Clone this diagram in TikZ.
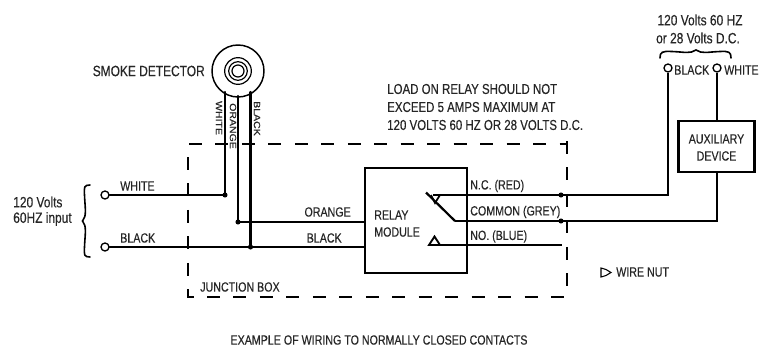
\documentclass[tikz,border=0pt]{standalone}
\usepackage{fontspec}
\setmainfont[FakeStretch=0.8,FakeBold=0.35]{Liberation Sans}
\tikzset{
 wire/.style={line width=1.65pt,line cap=round,line join=miter},
 boxed/.style={draw,line width=1.65pt,inner sep=0pt},
 term/.style={circle,draw,line width=1pt,fill=white,minimum size=6pt,inner sep=0pt},
 dotj/.style={circle,fill=black,minimum size=3.8pt,inner sep=0pt},
 lab/.style={font=\fontsize{10pt}{12.8pt}\selectfont,inner sep=0pt,text=black!85},
 labw/.style={lab,font=\fontsize{10.75pt}{13pt}\selectfont},
 labx/.style={lab,font=\fontsize{11.2pt}{13pt}\selectfont},
 vlab/.style={font=\fontsize{6.8pt}{8pt}\selectfont,inner sep=0pt,rotate=-90,text=black!85},
 dashline/.style={line width=1.65pt,dash pattern=on 9.75pt off 10.1pt},
 brc/.style={line width=1.2pt,line cap=round}
}
\begin{document}
\begin{tikzpicture}[x=0.75pt,y=-0.75pt]
\useasboundingbox (0,0) rectangle (770,350);
% junction box
\draw[dashline] (189,144) -- (567,144);
\draw[dashline] (188,157) -- (188,297.7);
\draw[dashline] (207,297) -- (567,297);
\draw[line width=1.65pt] (187.3,297) -- (194,297);
\draw[dashline] (567,141) -- (567,290);
% detector
\node[circle,draw,line width=1.1pt,minimum size=39pt,inner sep=0pt] (det) at (238,71) {};
\node[circle,draw,line width=.9pt,minimum size=20pt,inner sep=0pt] (r1) at (238,71) {};
\node[circle,draw,line width=.9pt,minimum size=14pt,inner sep=0pt] (r2) at (238,71) {};
\node[circle,draw,line width=.9pt,minimum size=9pt,inner sep=0pt] (r3) at (238,71) {};
% terminals, dots
\node[term] (tw) at (105,195) {};
\node[term] (tb) at (105,247) {};
\coordinate (dw) at (225,195);
\coordinate (do) at (238,222);
\coordinate (db) at (250.5,247);
\node[dotj] at (dw) {};
\node[dotj] at (do) {};
\node[dotj] at (db) {};
% relay box
\node[boxed,minimum width=76.5pt,minimum height=78.75pt] (relay) at (416,220.5) {};
\node[boxed,minimum width=57pt,minimum height=38.25pt] (aux) at (716.5,146.5) {};
\node[term] (tbk) at (668,68) {};
\node[term] (twh) at (717,68) {};
% wires
\draw[wire] (tw) -- (dw);
\draw[wire] (tb) -- (tb -| relay.west);
\draw[wire] (do) -- (do -| relay.west);
\draw[wire] (225,92) -- (dw);
\draw[wire] (238,96) -- (do);
\draw[wire] (250.5,92) -- (db);
% contacts
\coordinate (nc) at (433,195);
\coordinate (com) at (455,221);
\coordinate (no) at (430,245);
\node[dotj] at (561,195) {};
\node[dotj] at (561,221) {};
\draw[wire,line cap=butt] (426,192.5) -- (com);
\draw[wire,line cap=butt,line width=1.3pt] (431,195) -- (435,203) -- (440,195);
\draw[wire,line cap=butt] (nc) -- (668,195) -- (tbk);
\draw[wire,line cap=butt] (com) -- (717,221) -- (717,172);
\draw[wire,line cap=butt] (717,121) -- (twh);
\draw[wire,line cap=butt] (no) -- (562,245);
\draw[wire,line cap=butt,line width=1.4pt] (429,245) -- (434.5,236.5) -- (440,245) -- cycle;
% braces
\draw[brc] (90,185) .. controls (84,185) and (84,187) .. (84.5,195) .. controls (85,208) and (87,216) .. (82.5,221) .. controls (87,226) and (85,234) .. (84.5,247) .. controls (84,255) and (84,257) .. (90,257);
\draw[brc] (660,58) .. controls (660,52) and (662,51) .. (672,51.5) .. controls (685,52) and (690,54) .. (696,50) .. controls (702,54) and (707,52) .. (720,51.5) .. controls (729,51) and (731,52) .. (731,58);
% wire nut
\draw[line width=.8pt] (601,268) -- (606,269.5) -- (611,272.5) -- (606,275.5) -- (601,277) -- cycle;
% labels
\node[labx,anchor=east] at (205,71) {SMOKE DETECTOR};
\node[vlab] at (219,118) {\scalebox{1.45}[1]{WHITE}};
\node[vlab] at (233,126) {\scalebox{1.45}[1]{ORANGE}};
\node[vlab] at (257,118.5) {\scalebox{1.45}[1]{BLACK}};
\node[lab,anchor=west] at (120,186) {WHITE};
\node[lab,anchor=west] at (120,238) {BLACK};
\node[labx,anchor=west] at (13,202) {120 Volts};
\node[labx,anchor=west] at (13,219) {60HZ input};
\node[lab,anchor=east] at (351,212) {ORANGE};
\node[lab,anchor=east] at (342,238) {BLACK};
\node[lab,anchor=west] at (374,215) {RELAY};
\node[lab,anchor=west] at (374,232) {MODULE};
\node[lab,anchor=west] at (470,186) {N.C. (RED)};
\node[lab,anchor=west] at (470,212) {COMMON (GREY)};
\node[lab,anchor=west] at (470,236.5) {NO. (BLUE)};
\node[lab,anchor=west] at (200,287) {JUNCTION BOX};
\node[labw,anchor=west] at (387,89) {LOAD ON RELAY SHOULD NOT};
\node[labw,anchor=west] at (387,107) {EXCEED 5 AMPS MAXIMUM AT};
\node[labw,anchor=west] at (387,125) {120 VOLTS 60 HZ OR 28 VOLTS D.C.};
\node[labx] at (700,20) {120 Volts 60 HZ};
\node[labx] at (698,38) {or 28 Volts D.C.};
\node[lab,anchor=west] at (674,70) {BLACK};
\node[lab,anchor=west] at (724,70) {WHITE};
\node[lab,align=center] at (716.5,147.5) {AUXILIARY\\DEVICE};
\node[lab,anchor=west] at (616,272) {WIRE NUT};
\node[lab,font=\fontsize{10pt}{10pt}\selectfont] at (379,340) {EXAMPLE OF WIRING TO NORMALLY CLOSED CONTACTS};
\end{tikzpicture}
\end{document}
